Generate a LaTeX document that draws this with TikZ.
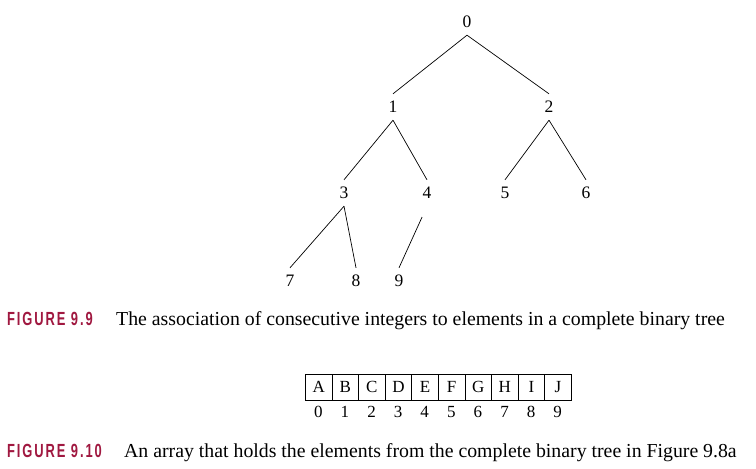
\documentclass[tikz,border=0pt]{standalone}
\usepackage{fontspec}
\setmainfont{Liberation Serif}
\newfontfamily\figfont{Liberation Sans}[FakeStretch=0.68,LetterSpace=10]
\definecolor{figred}{HTML}{A01840}
\begin{document}
\begin{tikzpicture}[x=1pt,y=-1pt,
  tn/.style={inner sep=0pt,minimum height=26pt,minimum width=12pt,font=\fontsize{17.5}{20}\selectfont},
  edge/.style={line width=0.7pt},
  cell/.style={draw,line width=0.7pt,minimum width=26.6pt,minimum height=26pt,inner sep=0pt,anchor=west,font=\fontsize{17}{20}\selectfont},
  idx/.style={inner sep=0pt,font=\fontsize{17}{20}\selectfont},
  figlab/.style={anchor=base west,inner sep=0pt,text=figred,font=\figfont\bfseries\fontsize{19}{22}\selectfont},
  captxt/.style={anchor=base west,inner sep=0pt,font=\fontsize{19.8}{22}\selectfont}]
\useasboundingbox (0,0) rectangle (756,469);
% tree
\node[tn] (n0) at (467,22) {0};
\node[tn] (n1) at (393,107) {1};
\node[tn] (n2) at (549,107) {2};
\node[tn] (n3) at (344,193) {3};
\node[tn] (n4) at (427,193) {4};
\node[tn] (n5) at (505,193) {5};
\node[tn] (n6) at (586,193) {6};
\node[tn] (n7) at (290,281) {7};
\node[tn] (n8) at (356,281) {8};
\node[tn] (n9) at (399,281) {9};
\draw[edge] (n0.south) -- (n1.north);
\draw[edge] (n0.south) -- (n2.north);
\draw[edge] (n1.south) -- (n3.north);
\draw[edge] (n1.south) -- (n4.north);
\draw[edge] (n2.south) -- (n5.north);
\draw[edge] (n2.south) -- (n6.north);
\draw[edge] (n3.south) -- (n7.north);
\draw[edge] (n3.south) -- (n8.north);
\draw[edge,shorten <=12pt] (n4.south) -- (n9.north);
% caption 9.9
\node[figlab] (f1) at (7,325) {FIGURE 9.9};
\node[captxt] (c1) at (116,325) {The association of consecutive integers to elements in a complete binary tree};
% array
\foreach \l [count=\i from 0] in {A,B,C,D,E,F,G,H,I,J}{
  \node[cell] (a\i) at (305+26.6*\i,387) {\l};
  \node[idx] (i\i) at (318.3+26.6*\i,412) {\i};
}
% caption 9.10
\node[figlab] (f2) at (7,457) {FIGURE 9.10};
\node[captxt] (c2) at (124,457) {An array that holds the elements from the complete binary tree in Figure 9.8a};
\end{tikzpicture}
\end{document}
